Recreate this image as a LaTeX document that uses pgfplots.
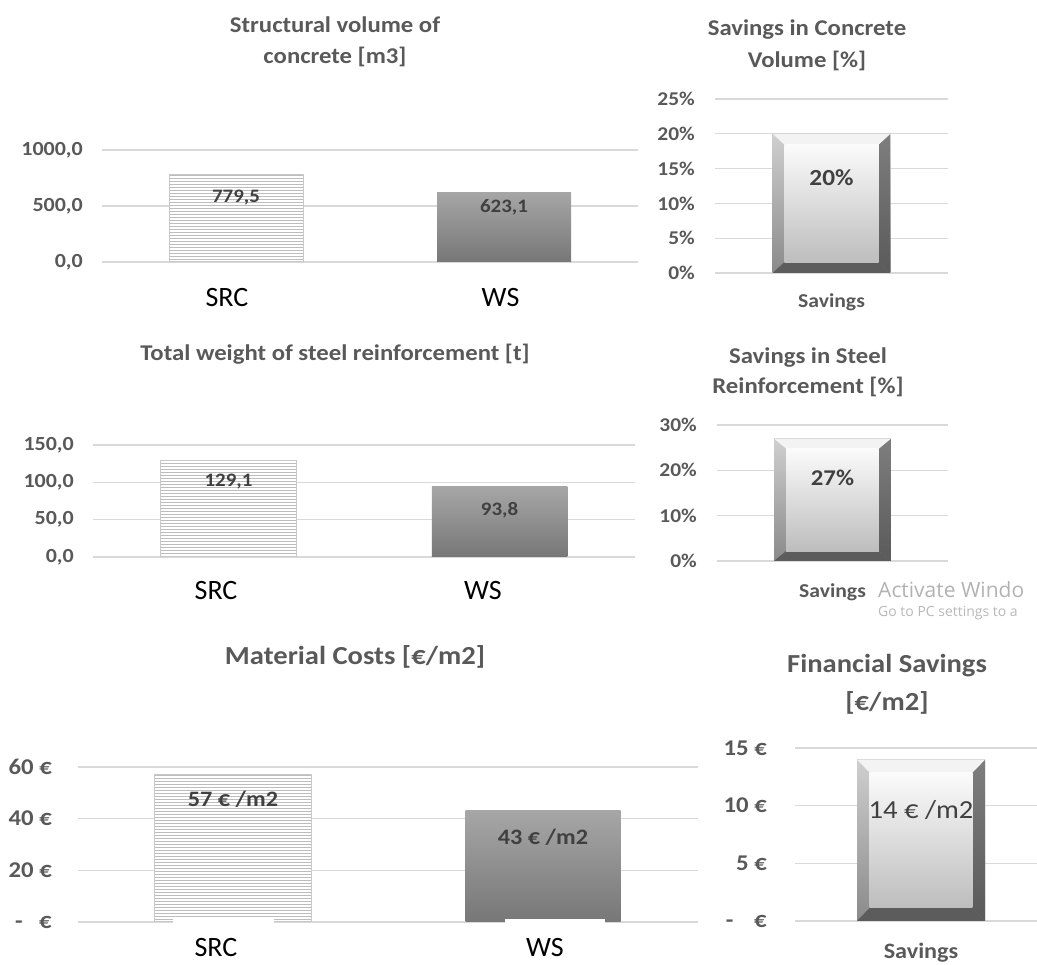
\documentclass[border=0pt]{standalone}
\usepackage{fontspec}
\setmainfont{Carlito}
\newfontfamily\osfont{Open Sans}
\usepackage{graphicx}
\usepackage{pgfplots}
\pgfplotsset{compat=1.18}
\usetikzlibrary{patterns}

\definecolor{gridc}{HTML}{D9D9D9}
\definecolor{tickc}{HTML}{595959}
\definecolor{valc}{HTML}{404040}
\definecolor{srcb}{HTML}{C8C8C8}
\definecolor{srcp}{HTML}{BDBDBD}
\definecolor{wstop}{HTML}{A6A6A6}
\definecolor{wsbot}{HTML}{777777}
\definecolor{bevlT}{HTML}{CFCFCF}
\definecolor{bevlB}{HTML}{8A8A8A}
\definecolor{bevrT}{HTML}{7E7E7E}
\definecolor{bevrB}{HTML}{5A5A5A}
\definecolor{bevb}{HTML}{5C5C5C}
\definecolor{bevt}{HTML}{F3F3F3}
\definecolor{faceT}{HTML}{FBFBFB}
\definecolor{faceB}{HTML}{BDBDBD}

\newcommand\fs[1]{\fontsize{#1pt}{#1pt}\selectfont}
\newcommand\sx[1]{\scalebox{1.1}[1]{#1}}

\pgfplotsset{panel/.style={
  scale only axis, anchor=south west,
  axis line style={draw=none}, tick style={draw=none}, major tick length=0pt,
  ymajorgrids, grid style={draw=gridc, line width=1.3pt},
  ymin=0, enlargelimits=false, clip=false,
  yticklabel style={text=tickc, anchor=east, inner sep=0pt},
  xticklabel style={anchor=base, inner sep=0pt},
}}

\begin{document}
\begin{tikzpicture}
\path[use as bounding box] (0,0) rectangle (1037pt,965pt);

% titles
\begin{scope}[every node/.style={anchor=base, text=tickc, inner sep=0pt}]
\node[font=\fs{22.5}\bfseries] at (335pt,932pt) {\sx{Structural volume of}};
\node[font=\fs{22.5}\bfseries] at (335pt,901pt) {\sx{concrete [m3]}};
\node[font=\fs{22.5}\bfseries] at (807pt,929pt) {\sx{Savings in Concrete}};
\node[font=\fs{22.5}\bfseries] at (807pt,897pt) {\sx{Volume [\%]}};
\node[font=\fs{22.5}\bfseries] at (335pt,604pt) {\sx{Total weight of steel reinforcement [t]}};
\node[font=\fs{22.5}\bfseries] at (808pt,601pt) {\sx{Savings in Steel}};
\node[font=\fs{22.5}\bfseries] at (808pt,571pt) {\sx{Reinforcement [\%]}};
\node[font=\fs{26}\bfseries] at (355pt,300pt) {\sx{Material Costs [€/m2]}};
\node[font=\fs{26}\bfseries] at (887pt,292pt) {\sx{Financial Savings}};
\node[font=\fs{26}\bfseries] at (887pt,254pt) {\sx{[€/m2]}};
\end{scope}

% structural volume of concrete
\begin{axis}[panel, at={(102pt,703pt)}, width=536pt, height=112pt,
  xmin=-0.5, xmax=1.5, ymax=1000,
  ytick={0,500,1000}, yticklabels={\sx{0,0},\sx{500,0},\sx{1000,0}},
  yticklabel style={font=\fs{20}\bfseries, xshift=-19pt},
  xtick={-0.034,0.987}, xticklabels={SRC,WS},
  xticklabel style={font=\fs{28}, yshift=-45pt}]
\addplot[ybar, bar width=0.5, bar shift=0pt, fill=white, draw=srcb, line width=1pt,
  postaction={pattern=horizontal lines, pattern color=srcp},
  nodes near coords={\sx{779,5}},
  every node near coord/.append style={font=\fs{19}\bfseries, text=valc, anchor=center, yshift=-23pt}]
  coordinates {(0,779.5)};
\addplot[ybar, bar width=0.5, bar shift=0pt, draw=none, top color=wstop, bottom color=wsbot,
  nodes near coords={\sx{623,1}},
  every node near coord/.append style={font=\fs{19}\bfseries, text=valc, anchor=center, yshift=-15pt}]
  coordinates {(1,623.1)};
\end{axis}

% savings in concrete volume
\begin{axis}[panel, at={(715pt,692pt)}, width=233pt, height=174pt,
  xmin=-0.5, xmax=0.5, ymax=25,
  ytick={0,5,10,15,20,25}, yticklabels={\sx{0\%},\sx{5\%},\sx{10\%},\sx{15\%},\sx{20\%},\sx{25\%}},
  yticklabel style={font=\fs{19.5}\bfseries, xshift=-20pt},
  xtick={0}, xticklabels={\sx{Savings}},
  xticklabel style={font=\fs{19.7}\bfseries, text=tickc, yshift=-35pt}]
\addplot[ybar, bar width=0.505, bar shift=0pt, draw=none, top color=bevlT, bottom color=bevlB]
  coordinates {(0,20)};
\addplot[draw=none, top color=bevrT, bottom color=bevrB] coordinates {(0.2525,0) (0.2525,20) (0.2025,18.45) (0.2025,1.55)} -- cycle;
\addplot[draw=none, fill=bevb] coordinates {(-0.2525,0) (0.2525,0) (0.2025,1.55) (-0.2025,1.55)} -- cycle;
\addplot[draw=none, fill=bevt] coordinates {(-0.2525,20) (0.2525,20) (0.2025,18.45) (-0.2025,18.45)} -- cycle;
\addplot[draw=none, top color=faceT, bottom color=faceB] coordinates {(-0.2025,1.55) (0.2025,1.55) (0.2025,18.45) (-0.2025,18.45)} -- cycle;
\node[font=\fs{23}\bfseries, text=valc] at (axis cs:0,20) [yshift=-44pt] {\sx{20\%}};
\end{axis}

% total weight of steel reinforcement
\begin{axis}[panel, at={(93pt,408pt)}, width=542pt, height=112pt,
  xmin=-0.5, xmax=1.5, ymax=150,
  ytick={0,50,100,150}, yticklabels={\sx{0,0},\sx{50,0},\sx{100,0},\sx{150,0}},
  yticklabel style={font=\fs{20}\bfseries, xshift=-19pt},
  xtick={-0.046,0.939}, xticklabels={SRC,WS},
  xticklabel style={font=\fs{28}, yshift=-43pt}]
\addplot[ybar, bar width=0.5, bar shift=0pt, fill=white, draw=srcb, line width=1pt,
  postaction={pattern=horizontal lines, pattern color=srcp},
  nodes near coords={\sx{129,1}},
  every node near coord/.append style={font=\fs{19}\bfseries, text=valc, anchor=center, yshift=-21pt}]
  coordinates {(0,129.1)};
\addplot[ybar, bar width=0.5, bar shift=0pt, draw=none, top color=wstop, bottom color=wsbot,
  nodes near coords={\sx{93,8}},
  every node near coord/.append style={font=\fs{19}\bfseries, text=valc, anchor=center, yshift=-23pt}]
  coordinates {(1,93.8)};
\end{axis}

% savings in steel reinforcement
\begin{axis}[panel, at={(717pt,404pt)}, width=231pt, height=136pt,
  xmin=-0.5, xmax=0.5, ymax=30,
  ytick={0,10,20,30}, yticklabels={\sx{0\%},\sx{10\%},\sx{20\%},\sx{30\%}},
  yticklabel style={font=\fs{19.5}\bfseries, xshift=-20pt},
  xtick={0}, xticklabels={\sx{Savings}},
  xticklabel style={font=\fs{19.7}\bfseries, text=tickc, yshift=-37pt}]
\addplot[ybar, bar width=0.506, bar shift=0pt, draw=none, top color=bevlT, bottom color=bevlB]
  coordinates {(0,27)};
\addplot[draw=none, top color=bevrT, bottom color=bevrB] coordinates {(0.253,0) (0.253,27) (0.201,24.8) (0.201,2.2)} -- cycle;
\addplot[draw=none, fill=bevb] coordinates {(-0.253,0) (0.253,0) (0.201,2.2) (-0.201,2.2)} -- cycle;
\addplot[draw=none, fill=bevt] coordinates {(-0.253,27) (0.253,27) (0.201,24.8) (-0.201,24.8)} -- cycle;
\addplot[draw=none, top color=faceT, bottom color=faceB] coordinates {(-0.201,2.2) (0.201,2.2) (0.201,24.8) (-0.201,24.8)} -- cycle;
\node[font=\fs{22.5}\bfseries, text=valc] at (axis cs:0,27) [yshift=-39pt] {\sx{27\%}};
\end{axis}

% material costs
\begin{axis}[panel, at={(78pt,43pt)}, width=620pt, height=155pt,
  xmin=-0.5, xmax=1.5, ymax=60,
  ytick={0,20,40,60}, yticklabels={\sx{-\hspace{15pt}€},\sx{20 €},\sx{40 €},\sx{60 €}},
  yticklabel style={font=\fs{22.5}\bfseries, xshift=-26pt},
  xtick=\empty]
\addplot[ybar, bar width=0.506, bar shift=0pt, fill=white, draw=srcb, line width=1pt,
  postaction={pattern=horizontal lines, pattern color=srcp},
  nodes near coords={\sx{57 € /m2}},
  every node near coord/.append style={font=\fs{22}\bfseries, text=valc, anchor=center, yshift=-25pt}]
  coordinates {(0,57)};
\addplot[ybar, bar width=0.5, bar shift=0pt, draw=none, top color=wstop, bottom color=wsbot,
  nodes near coords={\sx{43 € /m2}},
  every node near coord/.append style={font=\fs{22}\bfseries, text=valc, anchor=center, yshift=-26pt}]
  coordinates {(1,43)};
\fill[white] (axis cs:-0.194,1.16) rectangle (axis cs:0.132,-18);
\fill[white] (axis cs:0.877,1.16) rectangle (axis cs:1.2,-18);
\node[font=\fs{28}, anchor=base, inner sep=0pt] at (axis cs:-0.055,0) [yshift=-35pt] {SRC};
\node[font=\fs{28}, anchor=base, inner sep=0pt] at (axis cs:1.006,0) [yshift=-35pt] {WS};
\end{axis}

% financial savings
\begin{axis}[panel, at={(795pt,44pt)}, width=242pt, height=173pt,
  xmin=-0.5, xmax=0.46, ymax=15,
  ytick={0,5,10,15}, yticklabels={\sx{-\hspace{19pt}€},\sx{5 €},\sx{10 €},\sx{15 €}},
  yticklabel style={font=\fs{22.5}\bfseries, xshift=-28pt},
  xtick={0}, xticklabels={\sx{Savings}},
  xticklabel style={font=\fs{22}\bfseries, text=tickc, yshift=-38pt}]
\addplot[ybar, bar width=0.508, bar shift=0pt, draw=none, top color=bevlT, bottom color=bevlB]
  coordinates {(0,14)};
\addplot[draw=none, top color=bevrT, bottom color=bevrB] coordinates {(0.254,0) (0.254,14) (0.204,12.87) (0.204,1.13)} -- cycle;
\addplot[draw=none, fill=bevb] coordinates {(-0.254,0) (0.254,0) (0.204,1.13) (-0.204,1.13)} -- cycle;
\addplot[draw=none, fill=bevt] coordinates {(-0.254,14) (0.254,14) (0.204,12.87) (-0.204,12.87)} -- cycle;
\addplot[draw=none, top color=faceT, bottom color=faceB] coordinates {(-0.204,1.13) (0.204,1.13) (0.204,12.87) (-0.204,12.87)} -- cycle;
\node[font=\fs{26}, text=valc] at (axis cs:0,14) [yshift=-51pt] {\sx{14 € /m2}};
\end{axis}

% watermark left over from the screenshot
\node[anchor=base west, inner sep=0pt, font=\osfont\fs{21}, text=black!30] at (878pt,367pt) {Activate Windo};
\node[anchor=base west, inner sep=0pt, font=\osfont\fs{14}, text=black!28] at (878pt,348pt) {Go to PC settings to a};
\end{tikzpicture}
\end{document}
